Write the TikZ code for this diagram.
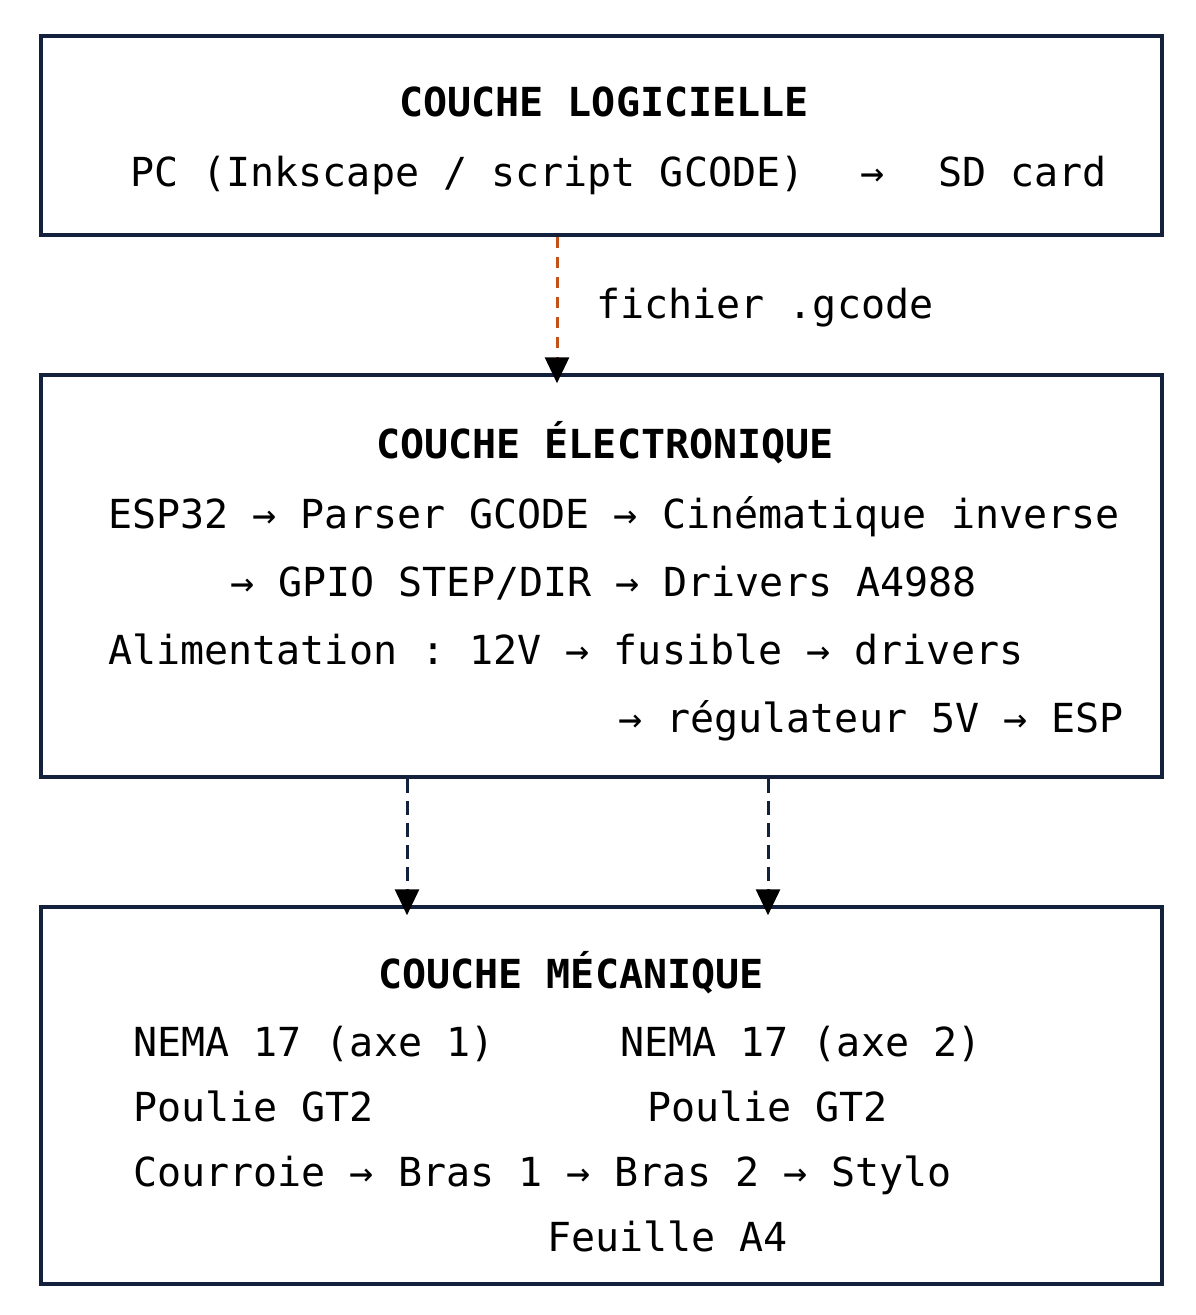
\documentclass[tikz,border=0pt]{standalone}
\usepackage{fontspec}
\setmonofont{DejaVu Sans Mono}
\usetikzlibrary{arrows.meta}
\definecolor{navy}{HTML}{14213D}
\definecolor{rust}{HTML}{C4501A}
\begin{document}
\begin{tikzpicture}[x=1pt,y=-1pt,
  layer/.style={draw=navy,line width=3.5pt,rectangle,inner sep=0pt,fill=white},
  txt/.style={inner sep=0pt,anchor=base west,font=\fontsize{40}{48}\selectfont\ttfamily},
  ttl/.style={inner sep=0pt,anchor=base,font=\fontsize{40}{48}\selectfont\ttfamily\bfseries},
  flow/.style={line width=3pt,-{Triangle[width=24pt,length=26pt,color=black]},shorten >=-10pt}]
\useasboundingbox[fill=white] (0,0) rectangle (1196,1315);
% boxes
\node[layer,minimum width=1121pt,minimum height=199pt] (soft) at (601.5,135.5) {};
\node[layer,minimum width=1121pt,minimum height=402pt] (elec) at (601.5,576) {};
\node[layer,minimum width=1121pt,minimum height=377pt] (meca) at (601.5,1095.5) {};
% software layer
\node[ttl] (t1) at (604,116) {COUCHE LOGICIELLE};
\node[txt] (s1) at (130,186) {PC (Inkscape / script GCODE)};
\node[txt] (s2) at (860,186) {→};
\node[txt] (s3) at (938,186) {SD card};
% arrow 1
\coordinate (a1) at (557,0);
\draw[flow,draw=rust,dash pattern=on 11pt off 9pt] (soft.south -| a1) -- (elec.north -| a1);
\node[txt] (lab) at (596,318) {fichier .gcode};
% electronic layer
\node[ttl] (t2) at (605,458) {COUCHE ÉLECTRONIQUE};
\node[txt] (e1) at (108,528) {ESP32 → Parser GCODE → Cinématique inverse};
\node[txt] (e2) at (230,596) {→ GPIO STEP/DIR → Drivers A4988};
\node[txt] (e3) at (108,664) {Alimentation : 12V → fusible → drivers};
\node[txt] (e4) at (618,732) {→ régulateur 5V → ESP};
% arrows 2 and 3
\coordinate (a2) at (407,0);
\coordinate (a3) at (768,0);
\draw[flow,draw=navy,dash pattern=on 14pt off 8pt] (elec.south -| a2) -- (meca.north -| a2);
\draw[flow,draw=navy,dash pattern=on 14pt off 8pt] (elec.south -| a3) -- (meca.north -| a3);
% mechanical layer
\node[ttl] (t3) at (571,988) {COUCHE MÉCANIQUE};
\node[txt] (m1) at (133,1056) {NEMA 17 (axe 1)};
\node[txt] (m2) at (620,1056) {NEMA 17 (axe 2)};
\node[txt] (m3) at (133,1121) {Poulie GT2};
\node[txt] (m4) at (647,1121) {Poulie GT2};
\node[txt] (m5) at (133,1186) {Courroie → Bras 1 → Bras 2 → Stylo};
\node[txt] (m6) at (547,1251) {Feuille A4};
\end{tikzpicture}
\end{document}
